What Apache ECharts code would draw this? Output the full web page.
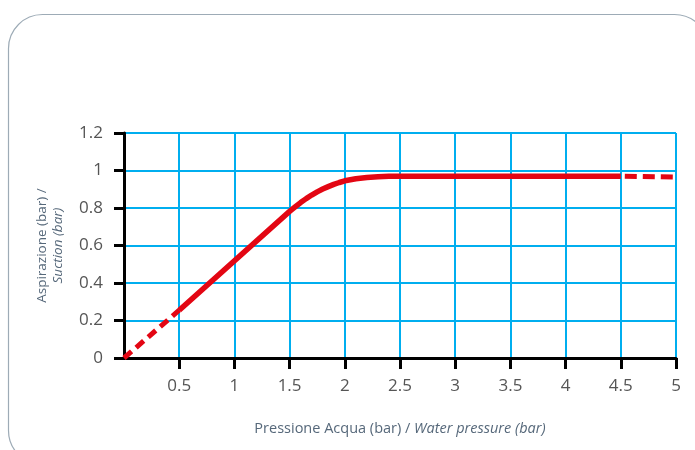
<!DOCTYPE html>
<html>
<head>
<meta charset="utf-8">
<script src="https://cdn.jsdelivr.net/npm/echarts@6/dist/echarts.min.js"></script>
<style>
  html, body { margin: 0; padding: 0; background: #fff; }
  #chart { width: 695px; height: 450px; }
</style>
</head>
<body>
<div id="chart"></div>
<script>
// pressione acqua (bar) -> aspirazione (bar)
const startDashed = [[0, 0], [0.5, 0.255]];
const mainCurve = [
  [0.5, 0.255], [1.5, 0.782], [1.55, 0.806], [1.6, 0.829], [1.65, 0.85],
  [1.7, 0.869], [1.75, 0.886], [1.8, 0.901], [1.85, 0.914], [1.9, 0.926],
  [1.95, 0.936], [2, 0.945], [2.1, 0.956], [2.2, 0.963], [2.3, 0.967],
  [2.4, 0.969], [4.5, 0.97]
];
const endDashed = [[4.5, 0.97], [5, 0.965]];

const red = '#e30613';
const cyan = '#00aeef';
const nameColor = '#56687a';
const font = 'Open Sans';

const chart = echarts.init(document.getElementById('chart'));

const option = {
  animation: false,
  backgroundColor: '#fff',
  graphic: [{
    type: 'rect',
    silent: true,
    shape: { x: 8.5, y: 14.5, width: 700, height: 450, r: 34 },
    style: { fill: 'none', stroke: '#9dabb6', lineWidth: 1.2 }
  }],
  grid: { left: 124, right: 19, top: 133, bottom: 92 },
  xAxis: {
    type: 'value',
    min: 0,
    max: 5,
    interval: 0.5,
    name: '{n|Pressione Acqua (bar) / }{i|Water pressure (bar)}',
    nameLocation: 'middle',
    nameGap: 63,
    nameTextStyle: {
      rich: {
        n: { fontSize: 14.5, color: nameColor, fontFamily: font },
        i: { fontSize: 14.5, color: nameColor, fontFamily: font, fontStyle: 'italic' }
      }
    },
    axisLine: { lineStyle: { color: '#000', width: 3 } },
    axisTick: { length: 11, lineStyle: { color: '#000', width: 3 } },
    axisLabel: {
      showMinLabel: false,
      margin: 20,
      fontSize: 17,
      color: '#555',
      fontFamily: font
    },
    splitLine: { lineStyle: { color: cyan, width: 2 } }
  },
  yAxis: {
    type: 'value',
    min: 0,
    max: 1.2,
    interval: 0.2,
    name: '{n|Aspirazione (bar) /}\n{i|Suction (bar)}',
    nameLocation: 'middle',
    nameGap: 58,
    nameRotate: 90,
    nameTextStyle: {
      align: 'center',
      rich: {
        n: { fontSize: 13.5, color: nameColor, fontFamily: font, lineHeight: 16, align: 'center' },
        i: { fontSize: 13.5, color: nameColor, fontFamily: font, fontStyle: 'italic', lineHeight: 16, align: 'center' }
      }
    },
    axisLine: { lineStyle: { color: '#000', width: 3 } },
    axisTick: { length: 10, lineStyle: { color: '#000', width: 3 } },
    axisLabel: {
      margin: 21,
      fontSize: 17,
      color: '#555',
      fontFamily: font
    },
    splitLine: { lineStyle: { color: cyan, width: 2 } }
  },
  series: [
    {
      type: 'line',
      data: startDashed,
      symbol: 'none',
      lineStyle: { color: red, width: 5, type: [10, 6] },
      z: 5
    },
    {
      type: 'line',
      data: mainCurve,
      symbol: 'none',
      lineStyle: { color: red, width: 5.5, join: 'round' },
      z: 5
    },
    {
      type: 'line',
      data: endDashed,
      symbol: 'none',
      lineStyle: { color: red, width: 5, type: [12, 6], dashOffset: -4 },
      z: 5
    }
  ]
};

chart.setOption(option);
</script>
</body>
</html>
